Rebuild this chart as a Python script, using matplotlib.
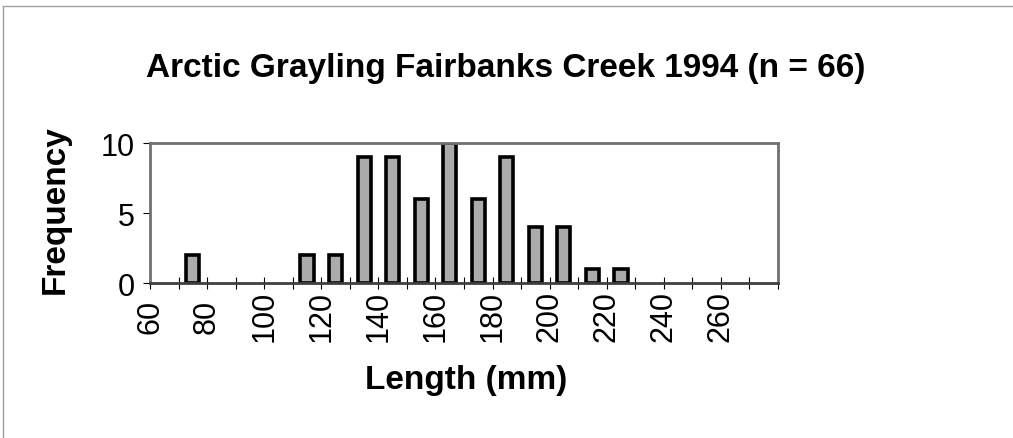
import numpy as np
import matplotlib.pyplot as plt
from matplotlib.lines import Line2D

plt.rcParams['font.family'] = ['Liberation Sans', 'DejaVu Sans']

# length bins (mm) and counts
bin_start = [70, 110, 120, 130, 140, 150, 160, 170, 180, 190, 200, 210, 220]
counts = [2, 2, 2, 9, 9, 6, 10, 6, 9, 4, 4, 1, 1]
tick_labels = [60, 80, 100, 120, 140, 160, 180, 200, 220, 240, 260]

fig = plt.figure(figsize=(10.13, 4.39), dpi=100)
ax = fig.add_axes([150/1013, 1 - 284/439, (778-150)/1013, (284-144)/439])

x = np.array(bin_start) + 5
ax.bar(x, counts, width=4.6, color='#ababab', edgecolor='black', linewidth=2.6)

ax.set_xlim(60, 280)
ax.set_ylim(0, 10)
ax.set_yticks([0, 5, 10])
ax.set_xticks(tick_labels)
ax.set_xticks(np.arange(60, 281, 10), minor=True)
ax.set_xticklabels([str(t) for t in tick_labels], rotation=90, va='center')
ax.tick_params(axis='x', which='both', direction='inout', length=8, width=0.8, labelsize=22, pad=19.5)
ax.tick_params(axis='y', direction='out', length=5, width=0.8, labelsize=22, pad=6)

for side in ['top', 'right', 'left']:
    ax.spines[side].set_color('#707070')
    ax.spines[side].set_linewidth(2)
ax.spines['bottom'].set_color('#404040')
ax.spines['bottom'].set_linewidth(2)

fig.text(506/1013, 1 - 68/439, 'Arctic Grayling Fairbanks Creek 1994 (n = 66)',
         ha='center', va='center', fontsize=24, fontweight='bold')
fig.text(55/1013, 1 - 210/439, 'Frequency', rotation=90,
         ha='center', va='center', fontsize=24, fontweight='bold')
fig.text(466/1013, 1 - 381/439, 'Length (mm)',
         ha='center', va='center', fontsize=24, fontweight='bold')

# outer frame (top and left only)
fig.add_artist(Line2D([3/1013, 1], [1 - 7/439, 1 - 7/439], color='#a0a0a0', linewidth=1))
fig.add_artist(Line2D([3/1013, 3/1013], [0, 1 - 7/439], color='#a0a0a0', linewidth=1))

fig.savefig('out.png', dpi=100)
